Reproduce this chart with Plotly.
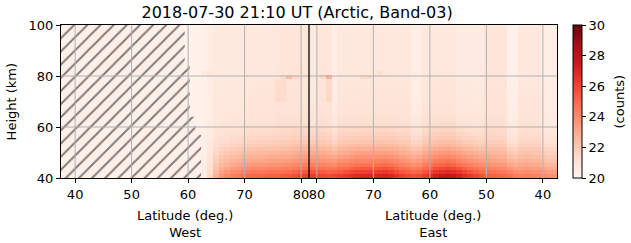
import plotly.graph_objects as go

# ---------------- data ----------------
LAT_EDGE = 37.5      # latitude at both outer plot edges
LAT_JOIN = 81.4      # latitude where the West and East passes meet

west_lat = [59.9, 60.9, 61.9, 62.9, 63.9, 64.9, 65.9, 66.9, 67.9, 68.9, 69.9,
            70.9, 71.9, 72.9, 73.9, 74.9, 75.9, 76.9, 77.9, 78.9, 79.9, 80.9]
west_bottom = [20.3, 20.3, 20.4, 20.5, 21.5, 22.8, 23.6, 24.0, 24.3, 24.5, 24.8,
               25.0, 25.1, 25.1, 25.2, 25.3, 25.3, 25.4, 25.5, 25.8, 26.0, 26.2]
west_bg = [20.2, 20.2, 20.2, 20.3, 20.5, 20.7, 20.7, 20.7, 20.7, 20.7, 20.7,
           20.8, 20.8, 20.8, 20.8, 20.8, 20.9, 20.9, 20.9, 20.9, 20.9, 20.9]

east_lat = [80.9, 79.9, 78.9, 77.9, 76.9, 75.9, 74.9, 73.9, 72.9, 71.9, 70.9,
            69.9, 68.9, 67.9, 66.9, 65.9, 64.9, 63.9, 62.9, 61.9, 60.9, 59.9,
            58.9, 57.9, 56.9, 55.9, 54.9, 53.9, 52.9, 51.9, 50.9, 49.9, 48.9,
            47.9, 46.9, 45.9, 44.9, 43.9, 42.9, 41.9, 40.9, 39.9, 38.9, 37.9]
east_bottom = [26.3, 26.2, 26.0, 25.9, 26.0, 26.2, 26.4, 26.7, 26.9, 27.0, 27.0,
               27.0, 27.1, 27.2, 27.0, 26.6, 26.2, 25.9, 25.7, 25.9, 26.3, 26.8,
               27.3, 27.6, 27.8, 27.6, 27.2, 26.8, 26.4, 26.0, 25.7, 25.4, 25.2,
               25.1, 25.0, 24.8, 24.4, 24.3, 24.4, 24.3, 24.2, 24.0, 23.8, 23.8]
east_bg = [20.7, 20.8, 20.9, 20.8, 20.4, 20.8, 20.8, 20.8, 20.8, 20.8, 20.8,
           20.8, 20.8, 20.8, 20.8, 20.8, 20.8, 20.8, 20.4, 20.4, 20.8, 20.8,
           20.8, 20.8, 20.8, 20.8, 20.6, 20.6, 20.6, 20.6, 20.6, 20.9, 20.9,
           20.9, 20.9, 20.3, 20.3, 20.8, 20.8, 20.8, 20.8, 20.4, 20.4, 20.4]

height_km = [40.75, 42.25, 43.75, 45.25, 46.75, 48.25, 49.75, 51.25, 52.75, 54.25,
             55.75, 57.25, 58.75, 60.25, 61.75, 63.25, 64.75, 66.25, 67.75, 69.25,
             70.75, 72.25, 73.75, 75.25, 76.75, 78.25, 79.75, 81.25, 82.75, 84.25,
             85.75, 87.25, 88.75, 90.25, 91.75, 93.25, 94.75, 96.25, 97.75, 99.25]
# fraction of the low-altitude enhancement remaining at each height
height_profile = [1.00, 0.87, 0.75, 0.64, 0.55, 0.47, 0.40, 0.33, 0.27, 0.22,
                  0.18, 0.15, 0.12, 0.10, 0.08, 0.065, 0.05, 0.04, 0.035, 0.03,
                  0.025, 0.02, 0.02, 0.015, 0.015, 0.01, 0.01, 0.01, 0.005, 0.005,
                  0, 0, 0, 0, 0, 0, 0, 0, 0, 0]

# isolated brighter patches around 80 km
spot_side = ["W", "W", "W", "W", "W", "W", "E", "E", "E", "E", "E", "E", "W", "W"]
spot_lat = [77.9, 76.9, 78.9, 79.9, 75.9, 76.9, 77.9, 78.9, 77.9, 71.9, 70.9, 68.9, 62.9, 63.9]
spot_hmin = [79.0, 79.0, 79.0, 79.0, 70.0, 70.0, 79.0, 79.0, 70.0, 79.0, 79.0, 80.5, 80.5, 80.5]
spot_hmax = [81.0, 81.0, 81.0, 81.0, 79.0, 79.0, 81.0, 81.0, 79.0, 81.0, 81.0, 82.0, 82.0, 82.0]
spot_add = [1.5, 0.5, 0.5, 0.4, 0.4, 0.4, 1.8, 0.5, 0.6, 0.6, 0.6, 0.4, 0.4, 0.4]

# no-data (hatched) region boundary on the West pass
hatch_h = [100, 84, 84, 64, 64, 57, 57, 40]
hatch_lat = [59.4, 59.4, 60.3, 60.3, 61.3, 61.3, 62.3, 62.3]

tick_lat = [40, 50, 60, 70, 80]
y_ticks = [40, 60, 80, 100]
cbar_ticks = [20, 22, 24, 26, 28, 30]


# ---------------- build ----------------
def u_west(lat):
    return lat - LAT_EDGE


def u_east(lat):
    return (LAT_JOIN - LAT_EDGE) + (LAT_JOIN - lat)


x_cols = [u_west(v) for v in west_lat] + [u_east(v) for v in east_lat]
bottoms = west_bottom + east_bottom
bgs = west_bg + east_bg
sides = ["W"] * len(west_lat) + ["E"] * len(east_lat)
lats = west_lat + east_lat

z = []
for h, p in zip(height_km, height_profile):
    row = []
    for s, la, b, g in zip(sides, lats, bottoms, bgs):
        v = g + (b - g) * p
        for ss, sl, h0, h1, a in zip(spot_side, spot_lat, spot_hmin, spot_hmax, spot_add):
            if ss == s and abs(sl - la) < 0.01 and h0 <= h <= h1:
                v += a
        row.append(v)
    z.append(row)

u_mid = LAT_JOIN - LAT_EDGE

fig = go.Figure()
fig.add_trace(go.Heatmap(
    x=x_cols, y=height_km, z=z, zmin=20, zmax=30, colorscale="Reds",
    colorbar=dict(x=1.032, xanchor="left", xpad=0, y=0.5, len=1, ypad=0,
                  thickness=9, outlinecolor="black", outlinewidth=1,
                  tickvals=cbar_ticks, ticks="outside", ticklen=4, tickcolor="black",
                  tickfont=dict(size=13, color="black", family="DejaVu Sans")),
    hoverinfo="skip"))

hx = [0] + [u_west(v) for v in hatch_lat] + [0]
hy = [100] + hatch_h + [40]
fig.add_trace(go.Scatter(
    x=hx, y=hy, mode="lines", fill="toself", line=dict(width=0),
    fillcolor="#fef0e9",
    fillpattern=dict(shape="/", fgcolor="black", bgcolor="#fef0e9", size=9.3, solidity=0.2),
    showlegend=False, hoverinfo="skip"))

xtick_vals = [u_west(v) for v in tick_lat] + [u_east(v) for v in tick_lat]
xtick_text = [str(v) for v in tick_lat] * 2

shapes = []
for xv in xtick_vals:
    shapes.append(dict(type="line", xref="x", yref="paper", x0=xv, x1=xv, y0=0, y1=1,
                       line=dict(color="#b0b0b0", width=1), layer="above"))
for yv in y_ticks[1:-1]:
    shapes.append(dict(type="line", xref="paper", yref="y", x0=0, x1=1, y0=yv, y1=yv,
                       line=dict(color="#b0b0b0", width=1), layer="above"))
shapes.append(dict(type="line", xref="x", yref="paper", x0=u_mid, x1=u_mid, y0=0, y1=1,
                   line=dict(color="black", width=1.3), layer="above"))

font = dict(family="DejaVu Sans", size=13, color="black")
fig.update_layout(
    width=631, height=243, margin=dict(l=61, r=74, t=25, b=65),
    paper_bgcolor="white", plot_bgcolor="white", font=font, showlegend=False,
    title=dict(text="2018-07-30 21:10 UT (Arctic, Band-03)", x=0.476, xref="paper",
               xanchor="center", y=1 - 12 / 243, yanchor="middle",
               font=dict(family="DejaVu Sans", size=16, color="black")),
    shapes=shapes,
    annotations=[
        dict(text="Latitude (deg.)<br>West", x=u_mid / 2, xref="x", y=-0.18, yref="paper",
             xanchor="center", yanchor="top", showarrow=False, font=font),
        dict(text="Latitude (deg.)<br>East", x=u_mid * 1.5, xref="x", y=-0.18, yref="paper",
             xanchor="center", yanchor="top", showarrow=False, font=font),
        dict(text="Height (km)", x=-0.099, xref="paper", y=0.5, yref="paper", textangle=-90,
             xanchor="center", yanchor="middle", showarrow=False, font=font),
        dict(text="(counts)", x=1.127, xref="paper", y=0.5, yref="paper", textangle=-90,
             xanchor="center", yanchor="middle", showarrow=False, font=font),
    ],
)
fig.update_xaxes(range=[0, 87.8], tickvals=xtick_vals, ticktext=xtick_text,
                 ticks="outside", ticklen=4, tickcolor="black", showgrid=False,
                 zeroline=False, showline=True, mirror=True, linecolor="black",
                 linewidth=1, layer="above traces", tickfont=font)
fig.update_yaxes(range=[40, 100], tickvals=y_ticks, ticks="outside", ticklen=4,
                 tickcolor="black", showgrid=False, zeroline=False, showline=True,
                 mirror=True, linecolor="black", linewidth=1, layer="above traces",
                 tickfont=font)

fig.write_html("out.html")
